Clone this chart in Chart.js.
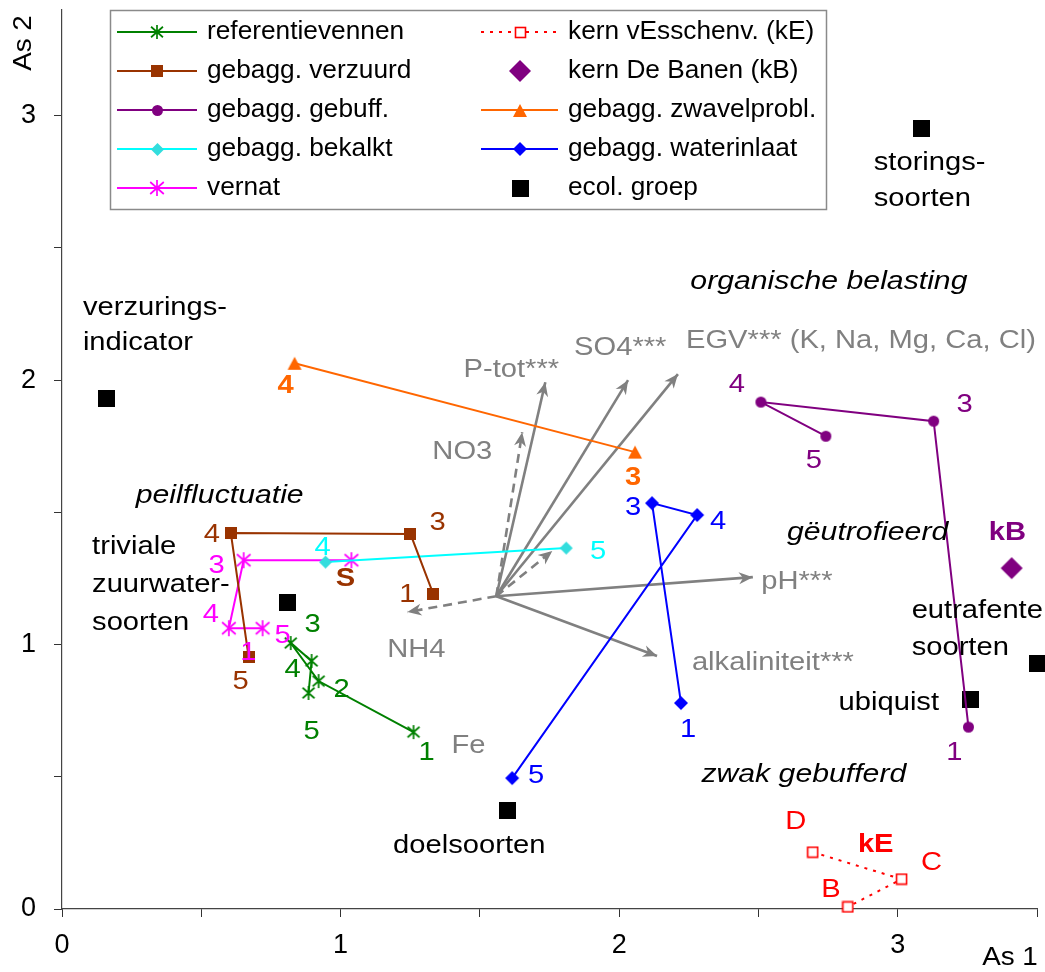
<!DOCTYPE html>
<html>
<head>
<meta charset="utf-8">
<title>Ordinatie vennen</title>
<script src="https://cdn.jsdelivr.net/npm/chart.js@4/dist/chart.umd.min.js"></script>
<style>
  html, body { margin: 0; padding: 0; background: #fff; }
  #wrap { width: 1045px; height: 972px; }
  canvas { display: block; }
</style>
</head>
<body>
<div id="wrap"><canvas id="c" width="1045" height="972"></canvas></div>
<script>
// ---- ordination scores (As 1, As 2) per series, in sampling order ----
const refX = [1.262, 0.921, 0.821, 0.896, 0.885];
const refY = [0.669, 0.862, 1.006, 0.938, 0.817];
const refNr = ['1', '2', '3', '4', '5'];

const verzX = [1.333, 1.251, 0.606, 0.670];
const verzY = [1.191, 1.418, 1.422, 0.953];
const verzNr = ['1', '3', '4', '5'];

const buffX = [3.254, 3.129, 2.509, 2.742];
const buffY = [0.688, 1.845, 1.917, 1.788];
const buffNr = ['1', '3', '4', '5'];

const kalkX = [0.946, 1.810];
const kalkY = [1.312, 1.365];
const kalkNr = ['4', '5'];

const vernX = [1.039, 0.652, 0.599, 0.720];
const vernY = [1.319, 1.319, 1.062, 1.062];
const vernNr = ['1', '3', '4', '5'];

const zwavX = [0.835, 2.057];
const zwavY = [2.064, 1.728];
const zwavNr = ['4', '3'];

const inlX = [2.222, 2.118, 2.280, 1.616];
const inlY = [0.779, 1.535, 1.490, 0.495];
const inlNr = ['1', '3', '4', '5'];

const kEX = [2.695, 3.014, 2.821];
const kEY = [0.215, 0.113, 0.008];
const kENr = ['D', 'C', 'B'];

const kBX = [3.409];
const kBY = [1.289];

// ecological species groups
const groepNames = ['storingssoorten', 'verzuringsindicator', 'triviale zuurwatersoorten', 'doelsoorten', 'ubiquist', 'eutrafente soorten'];
const groepX = [3.086, 0.158, 0.810, 1.599, 3.262, 3.500];
const groepY = [2.953, 1.932, 1.161, 0.371, 0.794, 0.930];

// environmental variables (biplot vectors from a common origin)
const envOriginX = 1.559;
const envOriginY = 1.183;
const envNames = ['P-tot***', 'SO4***', 'EGV*** (K, Na, Mg, Ca, Cl)', 'pH***', 'alkaliniteit***', 'NO3', 'NH4', ''];
const envX = [1.735, 2.032, 2.211, 2.480, 2.136, 1.652, 1.240, 1.760];
const envY = [1.992, 2.000, 2.023, 1.255, 0.957, 1.803, 1.123, 1.354];

// axis ticks
const xTicks = [0, 0.5, 1, 1.5, 2, 2.5, 3, 3.5];
const yTicks = [0, 0.5, 1, 1.5, 2, 2.5, 3];

// ---- styling / layout ----
const FONT = "'Liberation Sans', Arial, Helvetica, sans-serif";
const GREY = '#808080';
const TXT_SIZE = 26.5;
const TXT_SX = 1.10;   // horizontal text stretch for annotations
const LEG_SX = 1.01;

function marker(w, h, draw) {
  const c = document.createElement('canvas');
  c.width = w; c.height = h;
  draw(c.getContext('2d'), w / 2, h / 2);
  return c;
}
function star(color, r, lw) {
  return marker(2 * r + 4, 2 * r + 4, (g, cx, cy) => {
    g.strokeStyle = color; g.lineWidth = lw; g.lineCap = 'butt';
    g.beginPath();
    g.moveTo(cx, cy - r); g.lineTo(cx, cy + r);
    g.moveTo(cx - r * 0.85, cy - r * 0.75); g.lineTo(cx + r * 0.85, cy + r * 0.75);
    g.moveTo(cx + r * 0.85, cy - r * 0.75); g.lineTo(cx - r * 0.85, cy + r * 0.75);
    g.stroke();
  });
}
function square(color, s) {
  return marker(s, s, (g) => { g.fillStyle = color; g.fillRect(0, 0, s, s); });
}
function openSquare(color, s) {
  return marker(s + 2, s + 2, (g) => {
    g.fillStyle = '#fff'; g.fillRect(1, 1, s, s);
    g.strokeStyle = color; g.lineWidth = 1.6; g.strokeRect(1.5, 1.5, s - 1, s - 1);
  });
}
function dot(color, r) {
  return marker(2 * r + 2, 2 * r + 2, (g, cx, cy) => {
    g.fillStyle = color; g.beginPath(); g.arc(cx, cy, r, 0, Math.PI * 2); g.fill();
  });
}
function diamond(color, r) {
  return marker(2 * r + 2, 2 * r + 2, (g, cx, cy) => {
    g.fillStyle = color; g.beginPath();
    g.moveTo(cx, cy - r); g.lineTo(cx + r, cy); g.lineTo(cx, cy + r); g.lineTo(cx - r, cy);
    g.closePath(); g.fill();
  });
}
function triangle(color, w, h) {
  return marker(w + 2, h + 2, (g) => {
    g.fillStyle = color; g.beginPath();
    g.moveTo(w / 2 + 1, 1); g.lineTo(w + 1, h + 1); g.lineTo(1, h + 1); g.closePath(); g.fill();
  });
}

const pts = (xs, ys) => xs.map((x, i) => ({ x, y: ys[i] }));

// series: data + look + offsets (px) of the sample-number labels
const series = [
  { label: 'referentievennen', xs: refX, ys: refY, nr: refNr, color: '#008000', width: 2,
    mk: star('#008000', 7, 1.7), off: [[13, 21], [23, 9], [22, -18], [-19, 9], [3, 39]] },
  { label: 'gebagg. verzuurd', xs: verzX, ys: verzY, nr: verzNr, color: '#993300', width: 2,
    mk: square('#993300', 12), off: [[-26, 1], [27, -11], [-19, 2], [-8, 25]] },
  { label: 'gebagg. gebuff.', xs: buffX, ys: buffY, nr: buffNr, color: '#800080', width: 2,
    mk: dot('#800080', 5.5), off: [[-14, 26], [31, -16], [-24, -17], [-12, 24]] },
  { label: 'gebagg. bekalkt', xs: kalkX, ys: kalkY, nr: kalkNr, color: '#00FFFF', width: 2,
    mk: diamond('#33DDDD', 6.5), off: [[-3, -14], [32, 4]] },
  { label: 'vernat', xs: vernX, ys: vernY, nr: vernNr, color: '#FF00FF', width: 2,
    mk: star('#FF00FF', 8, 1.7), off: [[-103, 92], [-27, 5], [-18, -14], [20, 7]] },
  { label: 'kern vEsschenv. (kE)', xs: kEX, ys: kEY, nr: kENr, color: '#FF0000', width: 2, dash: [3, 6],
    mk: openSquare('#FF0000', 11), off: [[-17, -30], [30, -16], [-17, -17]] },
  { label: 'kern De Banen (kB)', xs: kBX, ys: kBY, nr: null, color: '#800080', width: 0, noLine: true,
    mk: diamond('#800080', 11) },
  { label: 'gebagg. zwavelprobl.', xs: zwavX, ys: zwavY, nr: zwavNr, color: '#FF6600', width: 2, bold: true,
    mk: triangle('#FF6600', 14, 13), off: [[-9, 22], [-2, 26]] },
  { label: 'gebagg. waterinlaat', xs: inlX, ys: inlY, nr: inlNr, color: '#0000FF', width: 2,
    mk: diamond('#0000FF', 7), off: [[7, 27], [-19, 5], [21, 7], [24, -2]] },
  { label: 'ecol. groep', xs: groepX, ys: groepY, nr: null, color: '#000', width: 0, noLine: true,
    mk: square('#000', 17) },
];

const datasets = series.map(s => ({
  label: s.label,
  data: pts(s.xs, s.ys),
  showLine: !s.noLine,
  borderColor: s.color,
  borderWidth: s.width || 0,
  borderDash: s.dash || [],
  pointStyle: s.mk,
  pointRadius: 6,
  pointHoverRadius: 6,
  backgroundColor: s.color,
  clip: false,
  tension: 0,
}));

// biplot vectors as two-point lines
const envDashed = [false, false, false, false, false, true, true, true];
envX.forEach((ex, i) => {
  datasets.push({
    label: envNames[i] || 'vector',
    data: [{ x: envOriginX, y: envOriginY }, { x: ex, y: envY[i] }],
    showLine: true,
    borderColor: GREY,
    borderWidth: 2.6,
    borderDash: envDashed[i] ? [9, 6] : [],
    pointRadius: 0,
    clip: false,
    isVector: true,
  });
});

// label positions of the vectors (in axis units)
const envLabelPos = [
  [1.613, 2.038, 'center'], [2.004, 2.121, 'center'], [2.240, 2.151, 'left'], [2.638, 1.236, 'center'],
  [2.552, 0.930, 'center'], [1.437, 1.728, 'center'], [1.272, 0.979, 'center'], null,
];
const extraGrey = [{ t: 'Fe', x: 1.459, y: 0.616 }];

const notes = [
  { lines: ['verzurings-', 'indicator'], x: 0.075, y: 2.276, align: 'left', gap: 35 },
  { lines: ['storings-', 'soorten'], x: 2.914, y: 2.824, align: 'left', gap: 36 },
  { lines: ['triviale', 'zuurwater-', 'soorten'], x: 0.108, y: 1.369, align: 'left', gap: 38 },
  { lines: ['doelsoorten'], x: 1.462, y: 0.238 },
  { lines: ['ubiquist'], x: 2.968, y: 0.779 },
  { lines: ['eutrafente', 'soorten'], x: 3.050, y: 1.130, align: 'left', gap: 37 },
  { lines: ['organische belasting'], x: 2.753, y: 2.371, italic: true, sx: 1.14 },
  { lines: ['peilfluctuatie'], x: 0.566, y: 1.565, italic: true, sx: 1.14 },
  { lines: ['gëutrofieerd'], x: 2.892, y: 1.425, italic: true, sx: 1.14 },
  { lines: ['zwak gebufferd'], x: 2.663, y: 0.507, italic: true, sx: 1.14 },
  { lines: ['S'], x: 1.018, y: 1.251, bold: true, color: '#993300' },
  { lines: ['kE'], x: 2.921, y: 0.242, bold: true, color: '#FF0000' },
  { lines: ['kB'], x: 3.394, y: 1.422, bold: true, color: '#800080' },
];

function drawText(ctx, s, x, y, o) {
  o = o || {};
  ctx.save();
  ctx.font = `${o.italic ? 'italic ' : ''}${o.bold ? 'bold ' : ''}${o.size || TXT_SIZE}px ${FONT}`;
  ctx.fillStyle = o.color || '#000';
  ctx.textAlign = o.align || 'center';
  ctx.textBaseline = 'middle';
  ctx.translate(x, y);
  ctx.scale(o.sx || TXT_SX, 1);
  ctx.fillText(s, 0, 0);
  ctx.restore();
}

const vectorHeads = {
  id: 'vectorHeads',
  afterDatasetsDraw(chart) {
    const ctx = chart.ctx;
    chart.data.datasets.forEach((ds, i) => {
      if (!ds.isVector) return;
      const m = chart.getDatasetMeta(i).data;
      const a = m[0], b = m[1];
      const ang = Math.atan2(b.y - a.y, b.x - a.x);
      const L = 14, W = 6;
      ctx.save();
      ctx.fillStyle = GREY;
      ctx.translate(b.x, b.y); ctx.rotate(ang);
      ctx.beginPath();
      ctx.moveTo(0, 0); ctx.lineTo(-L, -W); ctx.lineTo(-L * 0.7, 0); ctx.lineTo(-L, W);
      ctx.closePath(); ctx.fill();
      ctx.restore();
    });
  },
};

const labelsPlugin = {
  id: 'labelsPlugin',
  afterDatasetsDraw(chart) {
    const ctx = chart.ctx;
    const sx = chart.scales.x, sy = chart.scales.y;
    // sample numbers next to points
    series.forEach((s, i) => {
      if (!s.nr) return;
      const m = chart.getDatasetMeta(i).data;
      s.nr.forEach((t, j) => {
        const p = m[j];
        drawText(ctx, t, p.x + s.off[j][0], p.y + s.off[j][1], { color: s.color, bold: s.bold });
      });
    });
    // vector names
    envNames.forEach((n, i) => {
      const p = envLabelPos[i];
      if (!n || !p) return;
      drawText(ctx, n, sx.getPixelForValue(p[0]), sy.getPixelForValue(p[1]), { color: GREY, align: p[2] });
    });
    extraGrey.forEach(g => drawText(ctx, g.t, sx.getPixelForValue(g.x), sy.getPixelForValue(g.y), { color: GREY }));
    // free annotations
    notes.forEach(n => {
      const x = sx.getPixelForValue(n.x), y = sy.getPixelForValue(n.y);
      n.lines.forEach((ln, k) => drawText(ctx, ln, x, y + k * (n.gap || 37), n));
    });
  },
};

const legendBox = {
  id: 'legendBox',
  afterDraw(chart) {
    const ctx = chart.ctx;
    const box = { l: 110, t: 10, r: 826, b: 209 };
    ctx.save();
    ctx.fillStyle = '#fff';
    ctx.fillRect(box.l, box.t, box.r - box.l, box.b - box.t);
    ctx.strokeStyle = '#8a8a8a'; ctx.lineWidth = 1.5;
    ctx.strokeRect(box.l + 0.5, box.t + 0.5, box.r - box.l, box.b - box.t);
    const cols = [{ x1: 117, x2: 197, m: 157, t: 207 }, { x1: 481, x2: 558, m: 520, t: 568 }];
    const rows = [32, 71, 110, 149, 188];
    series.forEach((s, i) => {
      const c = cols[i < 5 ? 0 : 1], y = rows[i % 5];
      if (!s.noLine) {
        ctx.save();
        ctx.strokeStyle = s.color; ctx.lineWidth = s.width;
        ctx.setLineDash(s.dash || []);
        ctx.beginPath(); ctx.moveTo(c.x1, y); ctx.lineTo(c.x2, y); ctx.stroke();
        ctx.restore();
      }
      ctx.drawImage(s.mk, Math.round(c.m - s.mk.width / 2), Math.round(y - s.mk.height / 2));
      drawText(ctx, s.label, c.t, y, { align: 'left', sx: LEG_SX, size: 26 });
    });
    // axis names
    drawText(ctx, 'As 1', 1010, 958, { size: 26.5, sx: 1.05 });
    ctx.translate(24, 43); ctx.rotate(-Math.PI / 2);
    drawText(ctx, 'As 2', 0, 0, { size: 26.5, sx: 1.05 });
    ctx.restore();
  },
};

const axisCommon = {
  type: 'linear',
  grid: { drawOnChartArea: false, drawTicks: true, tickLength: 8, color: '#333', lineWidth: 1 },
  border: { color: '#444', width: 1.2 },
};

new Chart(document.getElementById('c'), {
  type: 'scatter',
  data: { datasets },
  options: {
    responsive: false,
    animation: false,
    devicePixelRatio: 1,
    events: [],
    layout: { padding: { top: 10, right: 6, left: 0, bottom: 0 } },
    plugins: { legend: { display: false }, tooltip: { enabled: false } },
    scales: {
      x: Object.assign({}, axisCommon, {
        min: 0, max: 3.5,
        afterBuildTicks: s => { s.ticks = xTicks.map(v => ({ value: v })); },
        afterFit: s => { s.height = 63; s.paddingLeft = 0; s.paddingRight = 0; },
        ticks: {
          autoSkip: false, maxRotation: 0, padding: 12, color: '#000',
          font: { family: FONT, size: 27 },
          callback: v => (Number.isInteger(v) ? String(v) : ''),
        },
      }),
      y: Object.assign({}, axisCommon, {
        min: 0, max: 3.4,
        afterBuildTicks: s => { s.ticks = yTicks.map(v => ({ value: v })); },
        afterFit: s => { s.width = 62; s.paddingTop = 0; s.paddingBottom = 0; },
        ticks: {
          autoSkip: false, padding: 18, color: '#000',
          font: { family: FONT, size: 27 },
          callback: v => (Number.isInteger(v) ? String(v) : ''),
        },
      }),
    },
  },
  plugins: [vectorHeads, labelsPlugin, legendBox],
});
</script>
</body>
</html>
